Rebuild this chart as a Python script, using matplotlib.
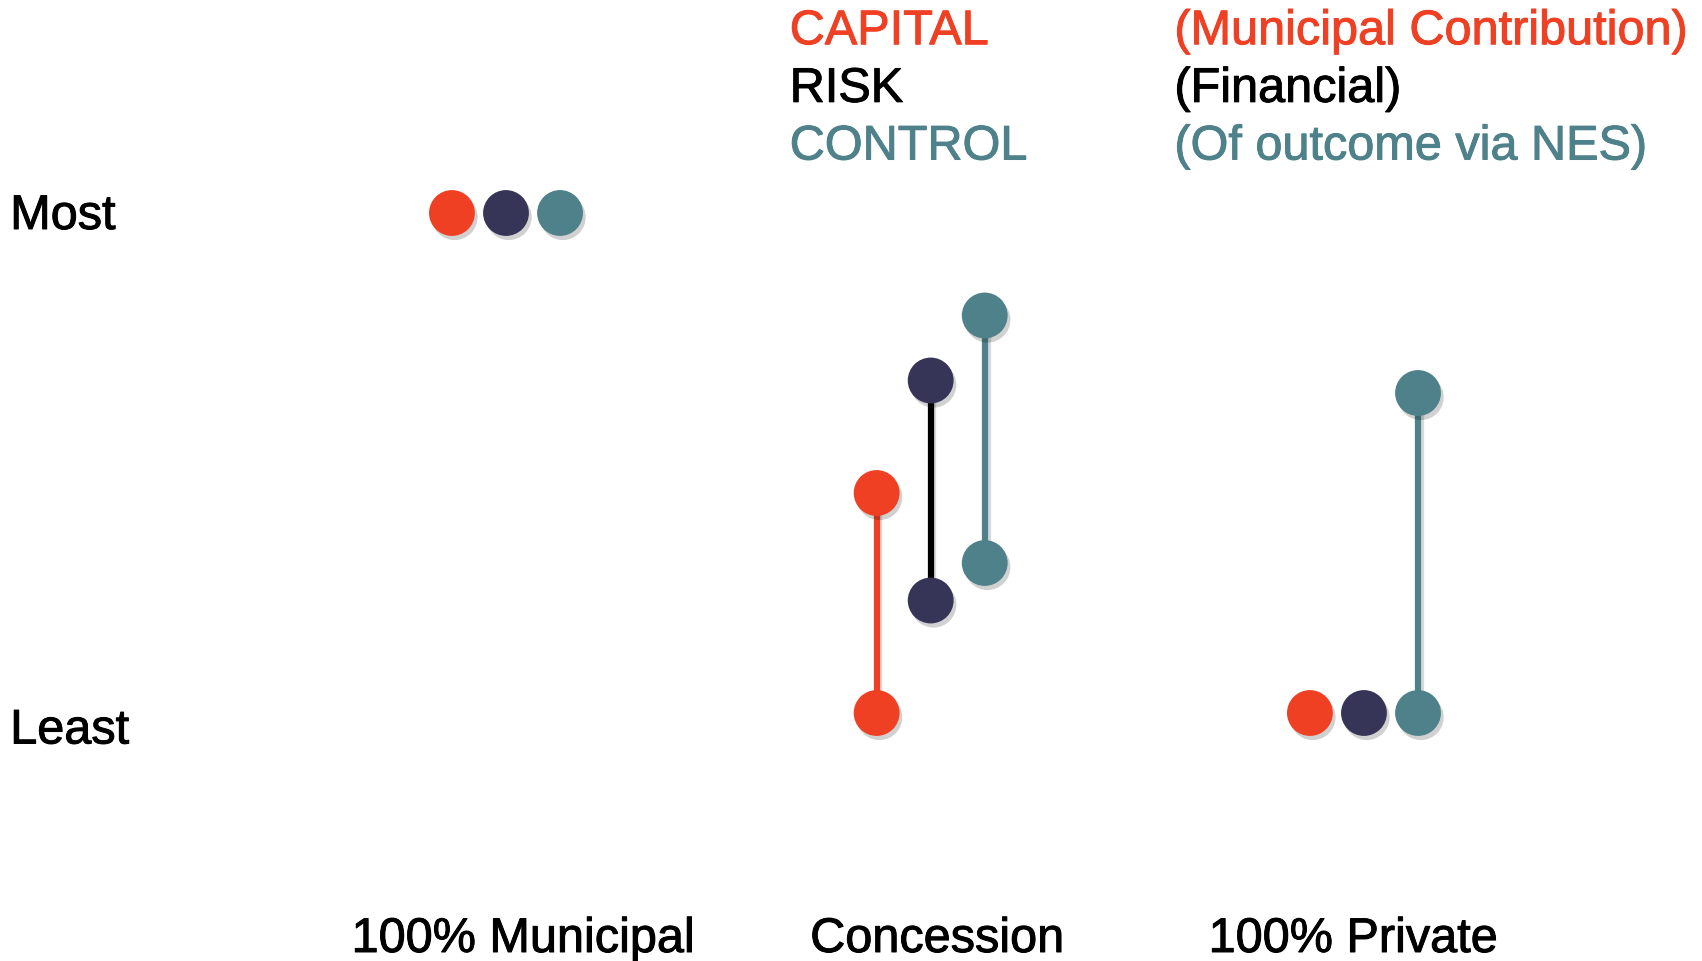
import matplotlib.pyplot as plt
import matplotlib.patheffects as pe
from matplotlib import transforms

plt.rcParams['font.family'] = ['Liberation Sans', 'DejaVu Sans']

# scale: 0 = least, 10 = most
categories = ['100% Municipal', 'Concession', '100% Private']
cat_pos = [0, 0.99, 2]
series = ['CAPITAL', 'RISK', 'CONTROL']
series_notes = ['(Municipal Contribution)', '(Financial)', '(Of outcome via NES)']
capital_low = [10, 0, 0]
capital_high = [10, 4.4, 0]
risk_low = [10, 2.25, 0]
risk_high = [10, 6.65, 0]
control_low = [10, 3.0, 0]
control_high = [10, 7.95, 6.4]

dot_colors = ['#EF4024', '#363558', '#4E818A']
line_colors = ['#EF4024', '#000000', '#4E818A']
text_colors = ['#EF4024', '#000000', '#4E818A']

fig = plt.figure(figsize=(17.02, 9.61), dpi=100)
ax = fig.add_axes([0, 0, 1, 1])
ax.set_xlim(-1.1795, 2.788)
ax.set_ylim(-4.96, 14.26)
ax.axis('off')

shadow = [pe.SimplePatchShadow(offset=(2, -3), shadow_rgbFace='black', alpha=0.18), pe.Normal()]
line_shadow = [pe.SimpleLineShadow(offset=(2, -2), shadow_color='black', alpha=0.15), pe.Normal()]


def heavy(color):
    # slightly thicker strokes for the labels
    return [pe.withStroke(linewidth=0.7, foreground=color)]


offsets = [-0.126, 0.0, 0.126]
lows = [capital_low, risk_low, control_low]
highs = [capital_high, risk_high, control_high]

for s in range(len(series)):
    xs = [p + offsets[s] for p in cat_pos]
    for x, lo, hi in zip(xs, lows[s], highs[s]):
        if hi != lo:
            ax.plot([x, x], [lo, hi], color=line_colors[s], lw=4.5,
                    solid_capstyle='butt', zorder=2, path_effects=line_shadow)
    for x, lo, hi in zip(xs, lows[s], highs[s]):
        vals = [hi] if hi == lo else [lo, hi]
        for v in vals:
            ax.plot([x], [v], 'o', ms=33, color=dot_colors[s], mec='none',
                    zorder=3, path_effects=shadow)

# category names along the bottom
label_shift = [0.04, 0.015, -0.025]
for i, name in enumerate(categories):
    ax.text(cat_pos[i] + label_shift[i], -4.53, name, ha='center', va='center',
            fontsize=35, path_effects=heavy('black'))

# scale ends on the left
trans = transforms.blended_transform_factory(fig.transFigure, ax.transData)
ax.text(0.006, 9.93, 'Most', transform=trans, ha='left', va='center',
        fontsize=35, path_effects=heavy('black'))
ax.text(0.006, -0.36, 'Least', transform=trans, ha='left', va='center',
        fontsize=35, path_effects=heavy('black'))

# key
for k in range(len(series)):
    y = 0.967 - k * 0.06
    fig.text(0.464, y, series[k], color=text_colors[k], ha='left', va='center',
             fontsize=35, path_effects=heavy(text_colors[k]))
    fig.text(0.690, y, series_notes[k], color=text_colors[k], ha='left', va='center',
             fontsize=35, path_effects=heavy(text_colors[k]))

fig.savefig('out.png', dpi=100, facecolor='white')
